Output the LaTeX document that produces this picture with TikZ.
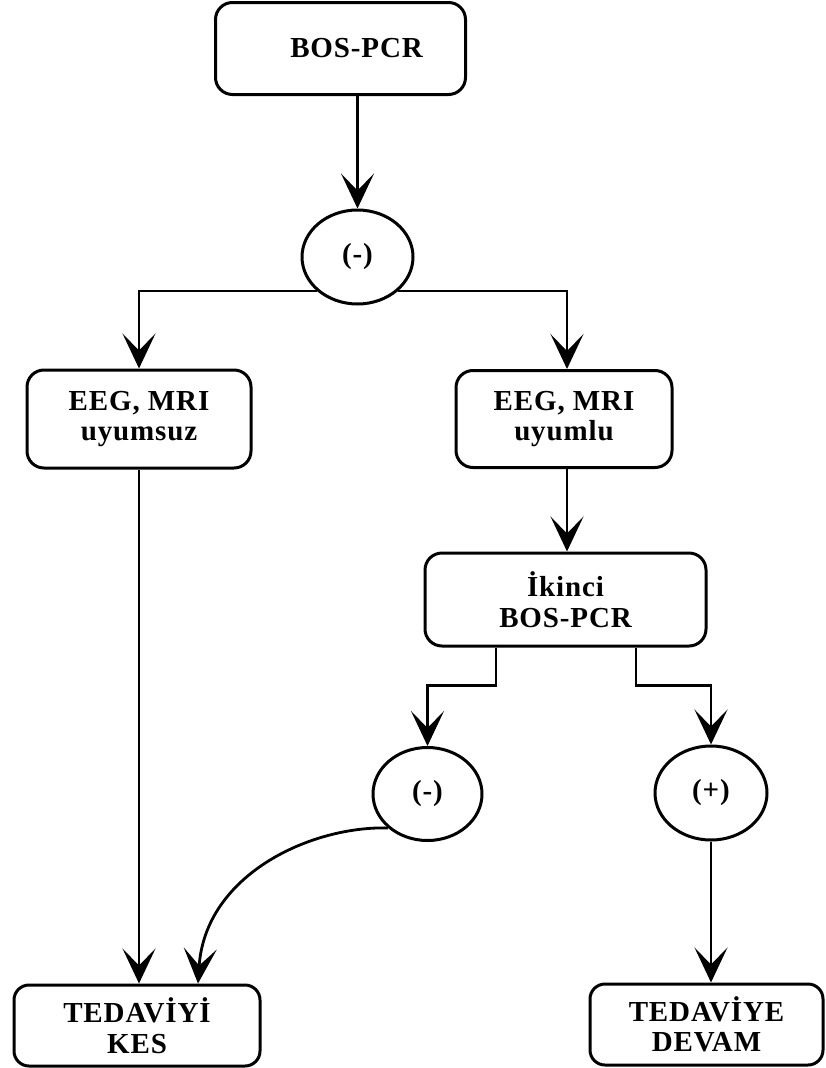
\documentclass[tikz,border=0pt]{standalone}
\usepackage{fontspec}
\setmainfont{Liberation Serif}[LetterSpace=3]
\usetikzlibrary{arrows.meta, shapes.geometric}

\begin{document}
\begin{tikzpicture}[
        x=1pt, y=1pt,
        every node/.style={font=\fontsize{29}{30.5}\selectfont\bfseries, align=center},
        bx/.style={draw, line width=3pt, rounded corners=17pt, inner sep=0pt},
        ov/.style={draw, ellipse, line width=3pt, inner sep=0pt},
        arr/.style={line width=2.4pt, -{Stealth[length=35pt, width=33pt, inset=17pt]}},
      ]
      \useasboundingbox (0,0) rectangle (825,-1068);
      \node[bx, minimum width=250pt, minimum height=92pt] (b1) at (340.5,-48.5) {\hspace*{32pt}BOS-PCR};
      \node[ov, minimum width=111pt, minimum height=94pt] (e1) at (357.5,-257) {(-)};
      \node[bx, minimum width=224pt, minimum height=98pt] (l1) at (139,-419) {EEG, MRI\\uyumsuz};
      \node[bx, minimum width=216pt, minimum height=97pt] (r1) at (564,-419) {EEG, MRI\\uyumlu};
      \node[bx, minimum width=281pt, minimum height=93pt] (k2) at (565.5,-599.5) {İkinci\\BOS-PCR};
      \node[ov, minimum width=109pt, minimum height=93pt] (e2) at (427.5,-794) {(-)};
      \node[ov, minimum width=112pt, minimum height=94pt] (e3) at (711,-793) {(+)};
      \node[bx, rounded corners=15pt, minimum width=246pt, minimum height=81pt] (t1) at (137,-1025.5) {TEDAVİYİ\\KES};
      \node[bx, rounded corners=15pt, minimum width=233pt, minimum height=81pt] (t2) at (706.5,-1024.5) {TEDAVİYE\\DEVAM};
      \draw[arr] (b1.south -| e1.north) -- (e1.north);
      \draw[arr] (e1.south west) -| (l1.north);
      \draw[arr] (e1.south east) -| ([xshift=3pt]r1.north);
      \draw[arr] ([xshift=3pt]r1.south) -- ([xshift=1.5pt]k2.north);
      \draw[arr] ([xshift=-69.5pt]k2.south) -- ++(0,-38) -| (e2.north);
      \draw[arr] ([xshift=70.5pt]k2.south) -- ++(0,-38) -| (e3.north);
      \draw[arr] (l1.south) -- (l1.south |- t1.north);
      \draw[arr, line width=2.8pt] (e2.south west) .. controls (310,-826) and (205,-875) .. ([xshift=61pt]t1.north);
      \draw[arr] (e3.south) -- (e3.south |- t2.north);
    \end{tikzpicture}
\end{document}
